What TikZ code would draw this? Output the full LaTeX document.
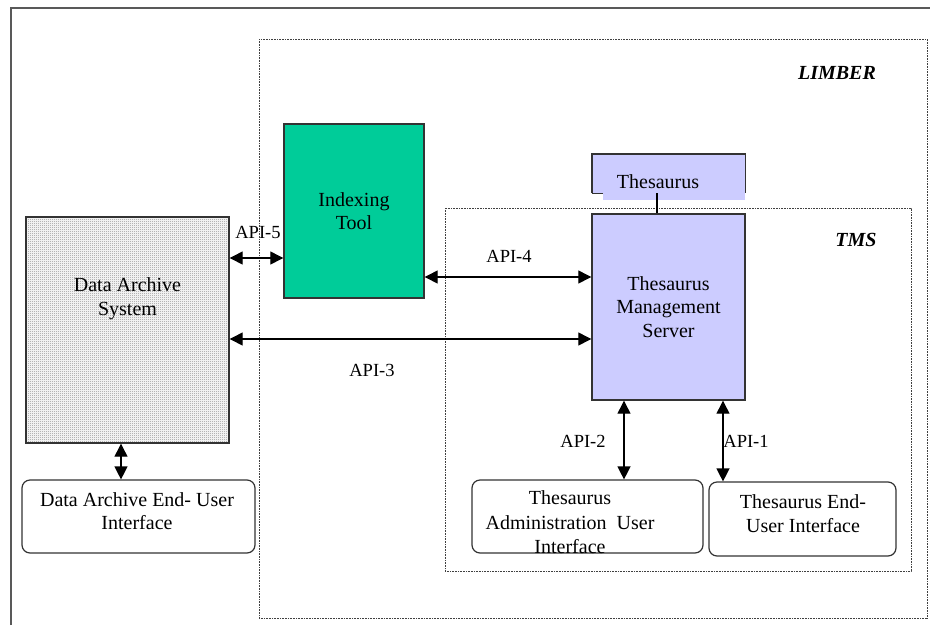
\documentclass[tikz,border=0pt]{standalone}
\usepackage{fontspec}
\setmainfont{Liberation Serif}
\usetikzlibrary{arrows.meta,patterns,positioning,calc}
\definecolor{idxgreen}{RGB}{0,204,153}
\definecolor{thesblue}{RGB}{204,204,255}
\pgfdeclarepatternformonly{finechecker}{\pgfpointorigin}{\pgfqpoint{2pt}{2pt}}{\pgfqpoint{2pt}{2pt}}
{\pgfpathrectangle{\pgfpointorigin}{\pgfqpoint{1pt}{1pt}}
 \pgfpathrectangle{\pgfqpoint{1pt}{1pt}}{\pgfqpoint{1pt}{1pt}}
 \pgfusepath{fill}}

\begin{document}
\begin{tikzpicture}
[x=1pt,y=-1pt,
font=\fontsize{20}{23.5}\selectfont,
outerline/.style={draw=black!65,line width=2pt},
region/.style={draw=black!75,line width=.8pt,dash pattern=on .8pt off .8pt},
boxline/.style={draw=black!80,line width=1.4pt},
block/.style={shape=rectangle,boxline,inner sep=0pt,align=center},
ui/.style={block,rounded corners=8pt,line width=1.2pt},
boxtext/.style={align=center,inner sep=0pt},
tag/.style={font=\fontsize{20}{23}\selectfont\bfseries\itshape},
apilabel/.style={font=\fontsize{18.5}{22}\selectfont},
api/.style={line width=1.3pt,{Triangle[length=13pt,width=13pt]}-{Triangle[length=13pt,width=13pt]}},
link/.style={line width=1.3pt}]
\useasboundingbox (0,0) rectangle (930,625);
%%
% frame and regions
%%
\draw[outerline] (11,625) -- (11,8) -- (930,8);
\draw[region] (259,39) rectangle (927,618);
\draw[region] (445,208) rectangle (911,571);
\node at (837,73) (limber) [tag] {LIMBER};
\node at (856,240) (tms) [tag] {TMS};
%%
% data archive
%%
\node at (127.5,330) (das) [block,minimum width=203pt,minimum height=226pt,
  pattern=finechecker,pattern color=black!45] {};
\node at (127.5,298.5) (dastext) [boxtext] {Data Archive\\System};
\node at (138.5,516.5) (dauser) [ui,minimum width=233pt,minimum height=73pt] {};
\node at (137,511) (dausertext) [boxtext] {Data Archive End- User\\Interface};
%%
% LIMBER tools
%%
\node at (354,211) (idx) [block,fill=idxgreen,minimum width=140pt,minimum height=174pt]
  {Indexing\\Tool};
\node at (668.5,177) (thes) [shape=rectangle,fill=thesblue,minimum width=153pt,minimum height=46pt] {};
\draw[boxline] ([yshift=7pt]thes.south west) -- (thes.north west) -- (thes.north east)
  -- ([yshift=7pt]thes.south east);
\draw[boxline] ([yshift=7pt]thes.south west) -- ++(11,0);
\fill[white] (thes.south west) rectangle ([xshift=11pt,yshift=6.3pt]thes.south west);
\node at (658,182) (thestext) [boxtext] {Thesaurus};
\node at (668.5,307) (tmsrv) [block,fill=thesblue,minimum width=153pt,minimum height=186pt]
  {Thesaurus\\Management\\Server};
\node at (587.5,516.5) (tadmin) [ui,minimum width=231pt,minimum height=73pt] {};
\begin{scope}
\clip (tadmin.south west) rectangle (tadmin.north east);
\node at (570,522.5) (tadmintext) [boxtext,font=\fontsize{20}{24.5}\selectfont]
  {Thesaurus\\Administration~~User\\Interface};
\end{scope}
\node at (802.5,519) (teuser) [ui,minimum width=187pt,minimum height=74pt] {};
\node at (803,513.5) (teusertext) [boxtext] {Thesaurus End-\\User Interface};
%%
% connectors
%%
\coordinate (y5) at (0,258);
\coordinate (y4) at (0,277);
\coordinate (y3) at (0,339);
\coordinate (xd) at (121,0);
\coordinate (xt) at (657,0);
\coordinate (x2) at (624,0);
\coordinate (x1) at (723,0);
\draw[api] (das.east |- y5) -- (idx.west |- y5);
\draw[api] (idx.east |- y4) -- (tmsrv.west |- y4);
\draw[api] (das.east |- y3) -- (tmsrv.west |- y3);
\draw[api] (das.south -| xd) -- (dauser.north -| xd);
\draw[api] (tmsrv.south -| x2) -- (tadmin.north -| x2);
\draw[api] (tmsrv.south -| x1) -- (teuser.north -| x1);
\draw[link] ([yshift=7pt]thes.south -| xt) -- (tmsrv.north -| xt);
%%
% API labels
%%
\node at (258,232) (l5) [apilabel] {API-5};
\node at (509,256) (l4) [apilabel] {API-4};
\node at (372,370) (l3) [apilabel] {API-3};
\node at (583,441) (l2) [apilabel] {API-2};
\node at (746,441) (l1) [apilabel] {API-1};
\end{tikzpicture}
\end{document}
